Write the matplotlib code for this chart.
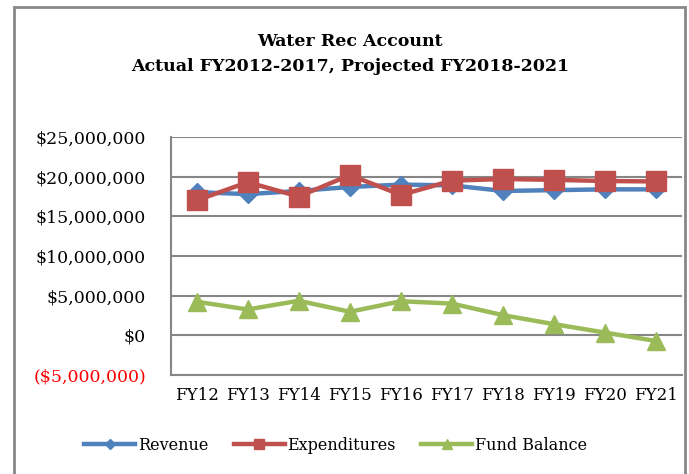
import matplotlib.pyplot as plt
from matplotlib.patches import Rectangle

years = ["FY12", "FY13", "FY14", "FY15", "FY16", "FY17", "FY18", "FY19", "FY20", "FY21"]
revenue = [18.05, 17.8, 18.2, 18.7, 19.0, 18.9, 18.2, 18.3, 18.4, 18.4]
expenditures = [17.0, 19.3, 17.5, 20.2, 17.7, 19.5, 19.7, 19.6, 19.45, 19.4]
fund_balance = [4.24, 3.26, 4.36, 2.97, 4.3, 4.0, 2.54, 1.4, 0.34, -0.72]
y_ticks = [-5, 0, 5, 10, 15, 20, 25]

plt.rcParams['font.family'] = ['DejaVu Serif']

fig = plt.figure(figsize=(6.89, 4.74), dpi=100)
ax = fig.add_axes([171 / 689, 1 - 375 / 474, 511 / 689, 238 / 474])

x = list(range(len(years)))
ax.plot(x, revenue, color='#4F81BD', lw=3.2, marker='D', ms=9.5, label='Revenue')
ax.plot(x, expenditures, color='#C0504D', lw=3.2, marker='s', ms=14, label='Expenditures')
ax.plot(x, fund_balance, color='#9BBB59', lw=3.2, marker='^', ms=13.5, label='Fund Balance')

ax.set_xlim(-0.5, 9.5)
ax.set_ylim(-5, 25)
ax.set_xticks(x)
ax.set_xticklabels(years, fontsize=12)
ax.set_yticks(y_ticks)


def money(v):
    if v < 0:
        return "(${:,.0f})".format(-v * 1e6)
    return "${:,.0f}".format(v * 1e6)


ax.set_yticklabels([money(v) for v in y_ticks], fontsize=12.5)
for lab, v in zip(ax.get_yticklabels(), y_ticks):
    if v < 0:
        lab.set_color('#FF0000')

ax.grid(axis='y', color='#868686', lw=1.5)
ax.set_axisbelow(True)
for s in ['top', 'right']:
    ax.spines[s].set_visible(False)
ax.spines['left'].set_color('#868686')
ax.spines['bottom'].set_color('#868686')
ax.spines['left'].set_linewidth(1.5)
ax.spines['bottom'].set_linewidth(1.5)
ax.tick_params(axis='y', length=0, pad=18)
ax.tick_params(axis='x', length=0, pad=9)

fig.text(0.508, 1 - 42 / 474, "Water Rec Account", ha='center', va='center',
         fontsize=12.5, fontweight='bold')
fig.text(0.508, 1 - 67 / 474, "Actual FY2012-2017, Projected FY2018-2021", ha='center',
         va='center', fontsize=12.5, fontweight='bold')

fig.legend(loc='center', bbox_to_anchor=(0.487, 1 - 445 / 474), ncol=3, frameon=False,
           fontsize=11.5, handlelength=3.2, handletextpad=0.15, columnspacing=1.6,
           markerscale=0.5)

fig.patches.append(Rectangle((14 / 689, -0.1), 671 / 689, 1.1 - 7 / 474,
                             transform=fig.transFigure, fill=False,
                             edgecolor='#888888', lw=2))

fig.savefig("out.png", dpi=100)
